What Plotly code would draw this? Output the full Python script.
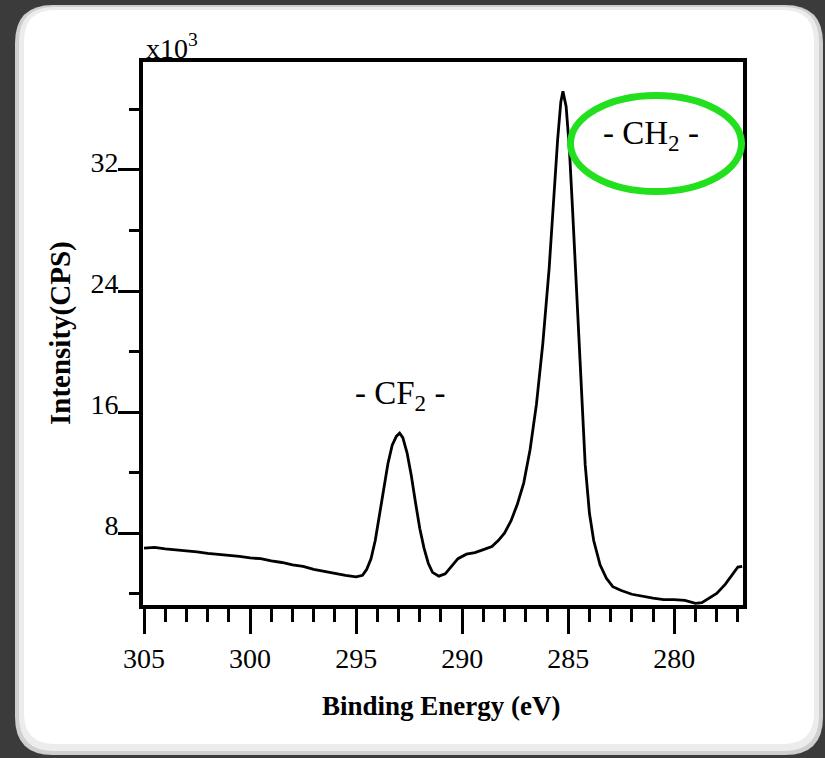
import plotly.graph_objects as go

# ---- data ----
binding_energy = [
    305.0, 304.5, 304.0, 303.5, 303.0, 302.5, 302.0, 301.5, 301.0, 300.5,
    300.0, 299.5, 299.0, 298.5, 298.0, 297.5, 297.0, 296.5, 296.0, 295.5,
    295.0, 294.7, 294.5, 294.3, 294.1, 293.9, 293.7, 293.5, 293.3, 293.1,
    292.95, 292.8, 292.6, 292.4, 292.2, 292.0, 291.8, 291.6, 291.4, 291.1,
    290.8, 290.5, 290.2, 289.8, 289.4, 289.0, 288.6, 288.3, 288.0, 287.7,
    287.4, 287.1, 286.8, 286.5, 286.2, 285.9, 285.7, 285.5, 285.35, 285.25,
    285.1, 284.95, 284.8, 284.6, 284.4, 284.2, 284.0, 283.8, 283.5, 283.2,
    282.9, 282.5, 282.0, 281.5, 281.0, 280.5, 280.0, 279.5, 279.0, 278.7,
    278.4, 278.0, 277.6, 277.3, 277.0, 276.8,
]
intensity_k = [
    7.0, 7.05, 6.95, 6.9, 6.85, 6.75, 6.65, 6.6, 6.5, 6.45,
    6.35, 6.3, 6.15, 6.05, 5.9, 5.8, 5.6, 5.45, 5.3, 5.2,
    5.1, 5.2, 5.6, 6.3, 7.5, 9.2, 11.0, 12.6, 13.8, 14.4,
    14.6, 14.3, 13.3, 11.8, 10.0, 8.3, 7.0, 6.0, 5.4, 5.15,
    5.3, 5.8, 6.3, 6.6, 6.7, 6.9, 7.1, 7.5, 8.0, 8.8,
    9.9, 11.3, 13.5, 16.5, 20.5, 25.5, 30.0, 34.0, 36.5, 37.2,
    36.2, 33.5, 29.5, 23.5, 17.5, 12.5, 9.3, 7.5, 5.9, 5.0,
    4.45, 4.2, 3.95, 3.8, 3.7, 3.6, 3.6, 3.55, 3.35, 3.4,
    3.65, 4.0, 4.6, 5.2, 5.75, 5.8,
]
x_range = [305.05, 276.76]
y_range = [3.24, 39.14]
x_title = "Binding Energy (eV)"
y_title = "Intensity(CPS)"
peak_labels = ["- CF<sub>2</sub> -", "- CH<sub>2</sub> -"]

# ---- layout geometry (pixels) ----
W, H = 825, 758
L, R, T, B = 143, 743, 62, 605
PW, PH = R - L, B - T


def px(xp):
    return (xp - L) / PW


def py(yp):
    return (B - yp) / PH


def rounded_rect(x0, y0, x1, y1, r):
    pts = [
        f"M {px(x0 + r)} {py(y0)}",
        f"L {px(x1 - r)} {py(y0)}",
        f"Q {px(x1)} {py(y0)} {px(x1)} {py(y0 + r)}",
        f"L {px(x1)} {py(y1 - r)}",
        f"Q {px(x1)} {py(y1)} {px(x1 - r)} {py(y1)}",
        f"L {px(x0 + r)} {py(y1)}",
        f"Q {px(x0)} {py(y1)} {px(x0)} {py(y1 - r)}",
        f"L {px(x0)} {py(y0 + r)}",
        f"Q {px(x0)} {py(y0)} {px(x0 + r)} {py(y0)}",
        "Z",
    ]
    return " ".join(pts)


SERIF = "Times New Roman, Liberation Serif, serif"

fig = go.Figure()
fig.add_trace(go.Scatter(
    x=binding_energy, y=intensity_k, mode="lines",
    line=dict(color="black", width=2.8),
    hoverinfo="skip", showlegend=False,
))

shapes = [
    dict(type="path", xref="paper", yref="paper", layer="below",
         path=rounded_rect(15, 5, 823, 755, 38), fillcolor="#cfcfcf",
         line=dict(width=0)),
    dict(type="path", xref="paper", yref="paper", layer="below",
         path=rounded_rect(19, 7, 819, 751, 35), fillcolor="#ececec",
         line=dict(width=0)),
    dict(type="path", xref="paper", yref="paper", layer="below",
         path=rounded_rect(24, 10, 814, 744, 31), fillcolor="white",
         line=dict(width=0)),
    dict(type="circle", xref="paper", yref="paper",
         x0=px(570.5), x1=px(741.5), y0=py(191.5), y1=py(95.5),
         line=dict(color="#22e01e", width=7)),
]

annotations = [
    dict(text=x_title, xref="paper", yref="paper", x=px(441), y=py(706),
         xanchor="center", yanchor="middle", showarrow=False,
         font=dict(family=SERIF, size=27, color="black", weight="bold")),
    dict(text=y_title, xref="paper", yref="paper", x=px(61), y=py(333),
         xanchor="center", yanchor="middle", showarrow=False, textangle=-90,
         font=dict(family=SERIF, size=29, color="black", weight="bold")),
    dict(text="x10<sup>3</sup>", xref="paper", yref="paper", x=px(144), y=py(66),
         xanchor="left", yanchor="bottom", showarrow=False,
         font=dict(family=SERIF, size=28, color="black")),
    dict(text=peak_labels[0], xref="paper", yref="paper", x=px(400), y=py(395),
         xanchor="center", yanchor="middle", showarrow=False,
         font=dict(family=SERIF, size=33, color="black")),
    dict(text=peak_labels[1], xref="paper", yref="paper", x=px(651), y=py(135),
         xanchor="center", yanchor="middle", showarrow=False,
         font=dict(family=SERIF, size=33, color="black")),
]

fig.update_layout(
    width=W, height=H,
    margin=dict(l=L, r=W - R, t=T, b=H - B, pad=0),
    paper_bgcolor="#3b3b3b",
    plot_bgcolor="white",
    shapes=shapes,
    annotations=annotations,
    showlegend=False,
    xaxis=dict(
        range=x_range, tick0=0, dtick=5,
        ticks="outside", ticklen=25, tickwidth=3, tickcolor="black",
        showline=True, linewidth=4, linecolor="black", mirror=True,
        showgrid=False, zeroline=False,
        tickfont=dict(family=SERIF, size=28, color="black"),
        ticklabelstandoff=0,
        minor=dict(dtick=1, tick0=0, ticks="outside", ticklen=13,
                   tickwidth=3, tickcolor="black", showgrid=False),
    ),
    yaxis=dict(
        range=y_range, tick0=0, dtick=8,
        ticks="outside", ticklen=21, tickwidth=3, tickcolor="black",
        showline=True, linewidth=4, linecolor="black", mirror=True,
        showgrid=False, zeroline=False,
        tickfont=dict(family=SERIF, size=28, color="black"),
        ticklabelshift=-8, ticklabelstandoff=-6,
        minor=dict(dtick=4, tick0=0, ticks="outside", ticklen=10,
                   tickwidth=3, tickcolor="black", showgrid=False),
    ),
)

fig.write_html("out.html")
